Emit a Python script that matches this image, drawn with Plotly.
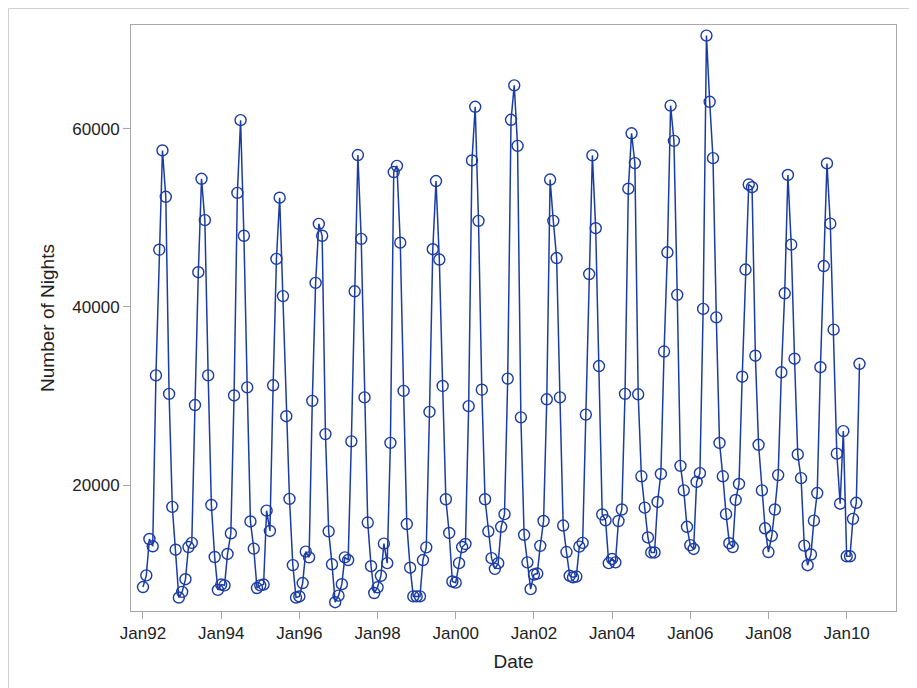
import plotly.graph_objects as go
import pandas as pd

# Monthly values, Jan 1992 .. May 2010
nights_1992 = [8550, 9860, 13940, 13120, 32300, 46400, 57540, 52340, 30220, 17550, 12740, 7370]
nights_1993 = [8010, 9430, 13040, 13510, 28970, 43880, 54360, 49720, 32300, 17760, 11920, 8230]
nights_1994 = [8830, 8740, 12260, 14580, 30050, 52780, 60940, 47970, 30950, 15910, 12860, 8440]
nights_1995 = [8740, 8830, 17120, 14840, 31190, 45370, 52240, 41200, 27720, 18440, 11010, 7370]
nights_1996 = [7490, 9000, 12520, 11880, 29440, 42680, 49300, 47970, 25710, 14800, 11100, 6850]
nights_1997 = [7580, 8870, 11880, 11580, 24900, 41740, 57030, 47620, 29830, 15790, 10890, 7880]
nights_1998 = [8520, 9810, 13420, 11230, 24730, 55120, 55810, 47190, 30560, 15620, 10720, 7500]
nights_1999 = [7500, 7500, 11580, 13000, 28200, 46460, 54110, 45300, 31110, 18400, 14620, 9170]
nights_2000 = [9040, 11230, 13040, 13380, 28850, 56420, 62440, 49640, 30690, 18400, 14800, 11790]
nights_2001 = [10590, 11230, 15310, 16730, 31940, 60980, 64850, 58060, 27590, 14410, 11320, 8310]
nights_2002 = [9950, 10060, 13170, 15960, 29620, 54280, 49640, 45470, 29830, 15450, 12480, 9810]
nights_2003 = [9640, 9730, 13080, 13510, 27900, 43670, 56990, 48820, 33350, 16690, 16040, 11230]
nights_2004 = [11700, 11320, 15960, 17250, 30220, 53250, 59470, 56120, 30180, 20980, 17460, 14110]
nights_2005 = [12430, 12430, 18100, 21240, 34980, 46110, 62570, 58620, 41340, 22150, 19400, 15310]
nights_2006 = [13250, 12820, 20340, 21330, 39760, 70430, 63000, 56680, 38810, 24720, 20980, 16730]
nights_2007 = [13470, 13040, 18320, 20120, 32150, 44180, 53720, 53420, 34510, 24510, 19400, 15140]
nights_2008 = [12480, 14280, 17250, 21110, 32650, 41510, 54790, 46970, 34170, 23430, 20770, 13200]
nights_2009 = [11000, 12200, 16000, 19100, 33220, 44570, 56080, 49330, 37430, 23520, 17900, 26050]
nights_2010 = [12000, 12000, 16200, 18000, 33600]

nights = (nights_1992 + nights_1993 + nights_1994 + nights_1995 + nights_1996 +
          nights_1997 + nights_1998 + nights_1999 + nights_2000 + nights_2001 +
          nights_2002 + nights_2003 + nights_2004 + nights_2005 + nights_2006 +
          nights_2007 + nights_2008 + nights_2009 + nights_2010)
dates = pd.date_range("1992-01-01", periods=len(nights), freq="MS")

x_tickvals = ["1992-01-01", "1994-01-01", "1996-01-01", "1998-01-01", "2000-01-01",
              "2002-01-01", "2004-01-01", "2006-01-01", "2008-01-01", "2010-01-01"]
x_ticktext = ["Jan92", "Jan94", "Jan96", "Jan98", "Jan00",
              "Jan02", "Jan04", "Jan06", "Jan08", "Jan10"]
y_tickvals = [20000, 40000, 60000]

color = "#1B3CA3"
fig = go.Figure()
fig.add_trace(go.Scatter(
    x=dates, y=nights, mode="lines+markers",
    line=dict(color=color, width=1.5),
    marker=dict(symbol="circle-open", size=11, color=color, line=dict(width=1.4, color=color)),
    showlegend=False,
))

axis_col = "#A8A8A8"
font_fam = "Liberation Sans, Arial, sans-serif"
fig.update_layout(
    width=917, height=688,
    margin=dict(l=123, r=29, t=17, b=85),
    paper_bgcolor="white", plot_bgcolor="white",
    font=dict(family=font_fam, color="#222222"),
    xaxis=dict(
        range=["1991-09-11", "2011-04-07"],
        tickvals=x_tickvals, ticktext=x_ticktext,
        ticks="outside", ticklen=7, tickcolor=axis_col, tickwidth=1,
        showgrid=False, zeroline=False,
        showline=True, linecolor=axis_col, linewidth=1, mirror=True,
        tickfont=dict(size=17),
        title=dict(text="Date", font=dict(size=19), standoff=12),
    ),
    yaxis=dict(
        range=[5860, 71620],
        tickvals=y_tickvals, tickformat="d",
        ticks="outside", ticklen=7, tickcolor=axis_col, tickwidth=1,
        showgrid=False, zeroline=False,
        showline=True, linecolor=axis_col, linewidth=1, mirror=True,
        tickfont=dict(size=17),
        title=dict(text="Number of Nights", font=dict(size=19), standoff=12),
    ),
)
# light outer border of the whole image
pw, ph = 917 - 123 - 29, 688 - 17 - 85
fig.add_shape(type="rect", xref="paper", yref="paper",
              x0=(0.5 - 123) / pw, x1=(916.5 - 123) / pw,
              y0=(603 - 687.5) / ph, y1=(603 - 0.5) / ph,
              line=dict(color="#D0D0D0", width=1), layer="below")
fig.write_html("out.html")
